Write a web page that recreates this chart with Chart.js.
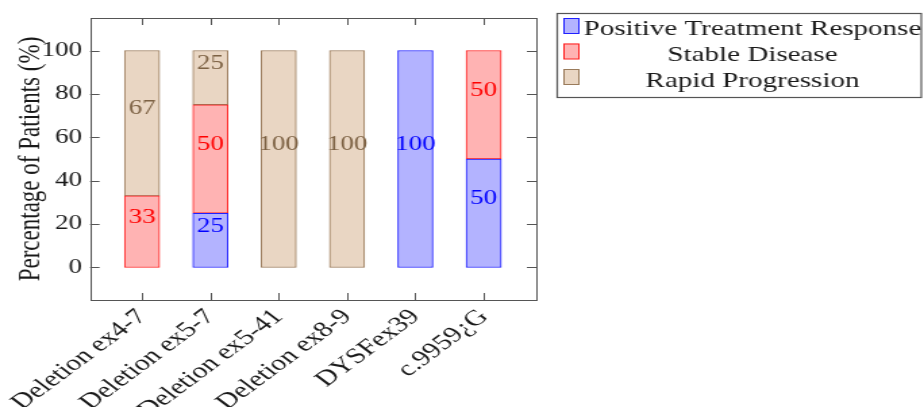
<!DOCTYPE html>
<html>
<head>
<meta charset="utf-8">
<script src="https://cdn.jsdelivr.net/npm/chart.js@4.4.1/dist/chart.umd.min.js"></script>
<style>
  html, body { margin: 0; padding: 0; background: #fff; overflow: hidden; }
  #wrap { position: absolute; left: 0; top: 0; width: 684px; height: 407px; transform: scaleX(1.3509); transform-origin: 0 0; }
</style>
</head>
<body>
<div id="wrap"><canvas id="c"></canvas></div>
<script>
const categories = ['Deletion ex4-7', 'Deletion ex5-7', 'Deletion ex5-41', 'Deletion ex8-9', 'DYSFex39', 'c.9959¿G'];
const seriesNames = ['Positive Treatment Response', 'Stable Disease', 'Rapid Progression'];
const positiveResponse = [null, 25, null, null, 100, 50];
const stableDisease = [33, 50, null, null, null, 50];
const rapidProgression = [67, 25, 100, 100, null, null];
const yTickValues = [0, 20, 40, 60, 80, 100];

const fills = ['#b3b3ff', '#ffb3b3', '#e9d6c3'];
const borders = ['#2020ff', '#ff2020', '#9a7b5b'];
const textColors = ['#0000ff', '#ff0000', '#7d6244'];
const serif = '"Liberation Serif", "Times New Roman", serif';

function pts(arr) {
  return arr.map((v, i) => ({ x: i, y: v })).filter(p => p.y !== null);
}

const allSeries = [positiveResponse, stableDisease, rapidProgression];

const frameAndLabels = {
  id: 'frameAndLabels',
  afterDatasetsDraw(chart) {
    const ctx = chart.ctx;
    const a = chart.chartArea;
    const xs = chart.scales.x, ys = chart.scales.y;
    ctx.save();
    ctx.font = '20px ' + serif;
    ctx.textAlign = 'center';
    ctx.textBaseline = 'middle';
    chart.data.datasets.forEach((ds, di) => {
      const meta = chart.getDatasetMeta(di);
      meta.data.forEach((el, j) => {
        const v = ds.data[j].y;
        ctx.fillStyle = textColors[di];
        ctx.fillText(String(v), el.x, (el.y + el.base) / 2 - 14);
      });
    });
    ctx.strokeStyle = '#555';
    ctx.lineWidth = 1;
    ctx.strokeRect(Math.round(a.left) + 0.5, Math.round(a.top) + 0.5, Math.round(a.right - a.left), Math.round(a.bottom - a.top));
    ctx.beginPath();
    yTickValues.forEach(v => {
      const y = Math.round(ys.getPixelForValue(v)) + 0.5;
      ctx.moveTo(a.left, y); ctx.lineTo(a.left + 7, y);
      ctx.moveTo(a.right, y); ctx.lineTo(a.right - 7, y);
    });
    categories.forEach((c, i) => {
      const x = Math.round(xs.getPixelForValue(i)) + 0.5;
      ctx.moveTo(x, a.bottom); ctx.lineTo(x, a.bottom - 7);
      ctx.moveTo(x, a.top); ctx.lineTo(x, a.top + 7);
    });
    ctx.stroke();
    ctx.restore();
  },
  afterDraw(chart) {
    const ctx = chart.ctx;
    ctx.save();
    const bx = 412.5, by = 13.5, bw = 269.5, bh = 84;
    ctx.strokeStyle = '#555';
    ctx.lineWidth = 1.2;
    ctx.strokeRect(bx, by, bw, bh);
    const markerTops = [18, 43.5, 69];
    const baselines = [35, 61, 86.5];
    seriesNames.forEach((name, i) => {
      ctx.fillStyle = fills[i];
      ctx.strokeStyle = borders[i];
      ctx.lineWidth = 1;
      ctx.fillRect(417, markerTops[i], 11.5, 15.5);
      ctx.strokeRect(417.5, markerTops[i] + 0.5, 11, 15);
      ctx.fillStyle = '#1a1a1a';
      ctx.font = '21.5px ' + serif;
      ctx.textAlign = 'center';
      ctx.textBaseline = 'alphabetic';
      ctx.fillText(name, 557, baselines[i]);
    });
    ctx.restore();
  }
};

new Chart(document.getElementById('c'), {
  type: 'bar',
  data: {
    datasets: allSeries.map((arr, i) => ({
      label: seriesNames[i],
      data: pts(arr),
      backgroundColor: fills[i],
      borderColor: borders[i],
      borderWidth: 1,
      borderSkipped: false,
      barThickness: 26
    }))
  },
  options: {
    responsive: true,
    maintainAspectRatio: false,
    animation: false,
    layout: { padding: { top: 13, right: 287, left: 0, bottom: 0 } },
    plugins: { legend: { display: false }, tooltip: { enabled: false } },
    scales: {
      x: {
        type: 'linear',
        stacked: true,
        offset: false,
        min: -0.76,
        max: 5.77,
        afterBuildTicks: (s) => { s.ticks = categories.map((c, i) => ({ value: i })); },
        afterFit: (s) => { s.height = 107; },
        grid: { display: false, drawTicks: false, offset: false },
        border: { display: false },
        ticks: {
          autoSkip: false,
          minRotation: 45,
          maxRotation: 45,
          padding: 4,
          color: '#1a1a1a',
          font: { family: serif, size: 22 },
          callback: (v) => categories[v]
        }
      },
      y: {
        type: 'linear',
        stacked: true,
        min: -15,
        max: 115,
        afterBuildTicks: (s) => { s.ticks = yTickValues.map(v => ({ value: v })); },
        afterFit: (s) => { s.width = 66.7; },
        grid: { display: false, drawTicks: false },
        border: { display: false },
        ticks: {
          padding: 6,
          color: '#1a1a1a',
          font: { family: serif, size: 20 }
        },
        title: {
          display: true,
          text: 'Percentage of Patients (%)',
          color: '#1a1a1a',
          font: { family: serif, size: 23 },
          padding: { top: 9, bottom: 0 }
        }
      }
    }
  },
  plugins: [frameAndLabels]
});
</script>
</body>
</html>
